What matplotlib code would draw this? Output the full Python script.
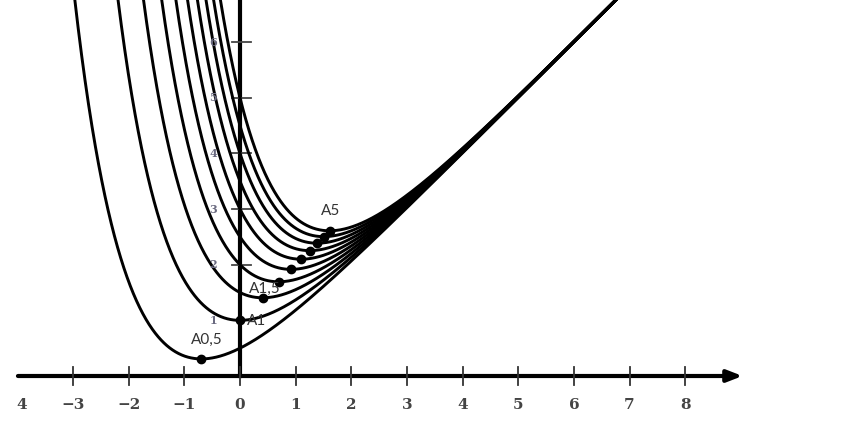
import numpy as np
import matplotlib
matplotlib.use("Agg")
import matplotlib.pyplot as plt

# Family f_a(x) = x + a*exp(-x); minimum A_a at (ln a, ln a + 1)
a_values = [0.5, 1, 1.5, 2, 2.5, 3, 3.5, 4, 4.5, 5]
point_labels = {0.5: "A0,5", 1: "A1", 1.5: "A1,5", 5: "A5"}
x_ticks = [-3, -2, -1, 0, 1, 2, 3, 4, 5, 6, 7, 8]
x_tick_labels = ["\u22123", "\u22122", "\u22121", "0", "1", "2", "3", "4", "5", "6", "7", "8"]
y_ticks = [1, 2, 3, 4, 5, 6]

W, H = 842, 429
fig = plt.figure(figsize=(W / 100, H / 100), dpi=100)
ax = fig.add_axes([0, 0, 1, 1])
unit = 55.65
x0px, y0px = 240, 376
xmin, xmax = -x0px / unit, (W - x0px) / unit
ymin, ymax = -(H - y0px) / unit, y0px / unit
ax.set_xlim(xmin, xmax)
ax.set_ylim(ymin, ymax)
ax.axis("off")

xs = np.linspace(-4.5, 11, 3000)
for a in a_values:
    ys = xs + a * np.exp(-xs)
    ax.plot(xs, ys, color="black", lw=2.1, solid_capstyle="round", zorder=3)
    mx = np.log(a)
    ax.plot([mx], [mx + 1], "o", color="black", ms=6, zorder=4)

# axes
ax.annotate("", xy=(9.03, 0), xytext=(-3.99, 0),
            arrowprops=dict(arrowstyle="-|>,head_length=0.9,head_width=0.35",
                            color="black", lw=3, shrinkA=0, shrinkB=0), zorder=2)
ax.plot([0, 0], [0, ymax + 0.1], color="black", lw=3, zorder=2)

tlen = 0.16
for t, lab in zip(x_ticks, x_tick_labels):
    ax.plot([t, t], [-tlen, tlen], color="#333333", lw=1.3, zorder=2)
    ax.text(t, -0.52, lab, ha="center", va="center", fontsize=11,
            family="DejaVu Serif", fontweight="bold", color="#444444")
# partially cropped "-4" label at the left edge: only the digit shows
ax.text(-3.93, -0.52, "4", ha="center", va="center", fontsize=11,
        family="DejaVu Serif", fontweight="bold", color="#444444")
for t in y_ticks:
    ax.plot([-0.15, 0.19], [t, t], color="#444444", lw=1.3, zorder=2)
    ax.text(-0.48, t, str(t), ha="center", va="center", fontsize=8,
            family="DejaVu Serif", fontweight="bold", color="#6a6a80")

lab_pos = {0.5: (-0.59, 0.65), 1: (0.29, 0.99), 1.5: (0.45, 1.56), 5: (1.62, 2.96)}
for a, txt in point_labels.items():
    px, py = lab_pos[a]
    ax.text(px, py, txt, ha="center", va="center", fontsize=11,
            family="Lato", color="#333333", zorder=5)

fig.savefig("out.png", dpi=100)
